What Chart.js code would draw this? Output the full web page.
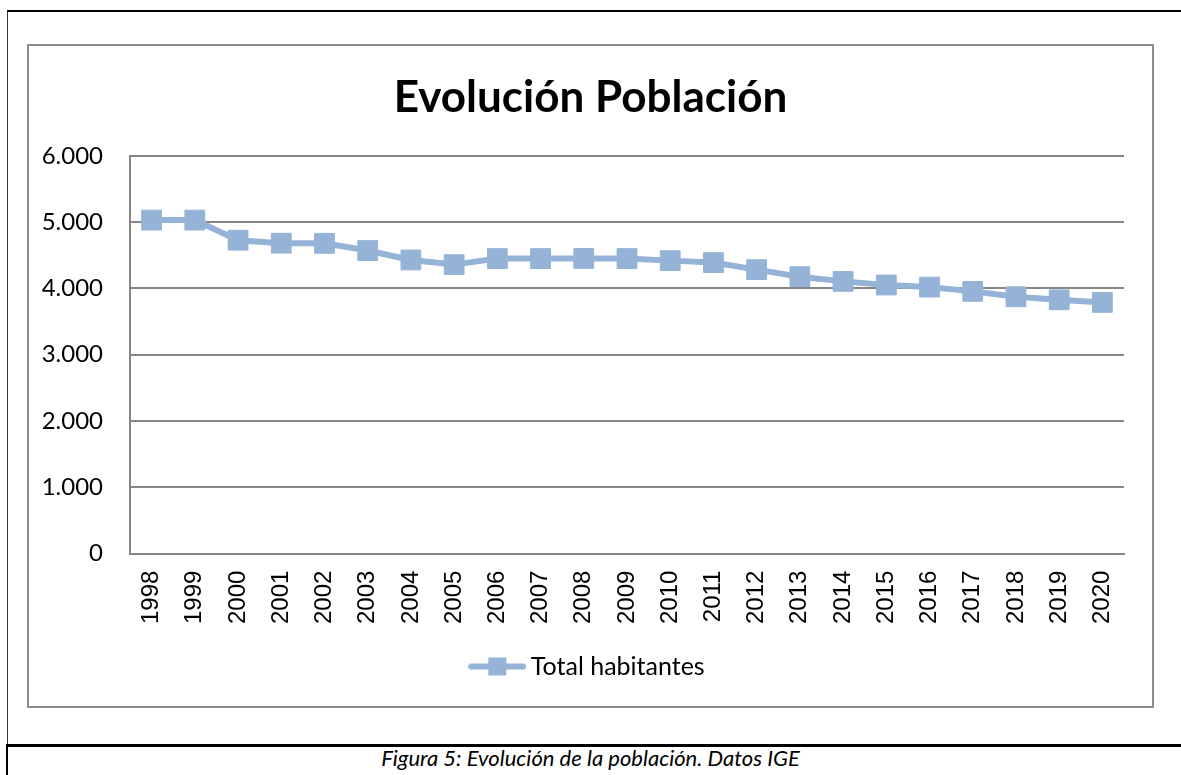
<!DOCTYPE html>
<html lang="es">
<head>
  <meta charset="UTF-8">
  <title>Evolución Población</title>
  <script src="https://cdn.jsdelivr.net/npm/chart.js"></script>
  <style>
    html, body { margin: 0; padding: 0; background: #fff; overflow: hidden; }
    body { width: 1181px; height: 775px; position: relative; }
    .cell { position: absolute; left: 7px; top: 10px; width: 1200px; height: 734px;
      border-top: 2px solid #000; border-left: 1px solid #333; }
    .sep { position: absolute; left: 7px; top: 744px; width: 1200px; height: 3px; background: #000; }
    .sepLeft { position: absolute; left: 6px; top: 744px; width: 2px; height: 40px; background: #000; }
    .frame { position: absolute; left: 27px; top: 44px; width: 1123px; height: 660px;
      border: 2px solid #8c8c8c; background: #fff; }
    .caption { position: absolute; left: 0; width: 1181px; top: 744px; text-align: center;
      font-family: Lato, "Open Sans", sans-serif; font-style: italic; font-size: 22px; color: #000; }
  </style>
</head>
<body>
  <div class="cell"></div>
  <div class="sep"></div>
  <div class="sepLeft"></div>
  <div class="frame">
    <canvas id="myChart" width="1123" height="660"></canvas>
  </div>
  <div class="caption">Figura 5: Evolución de la población. Datos IGE</div>

  <script>
    // datos
    const years = ['1998', '1999', '2000', '2001', '2002', '2003', '2004', '2005', '2006', '2007', '2008',
      '2009', '2010', '2011', '2012', '2013', '2014', '2015', '2016', '2017', '2018', '2019', '2020'];
    const habitantes = [5030, 5030, 4727, 4682, 4680, 4571, 4429, 4359, 4450, 4450, 4452,
      4450, 4419, 4389, 4283, 4177, 4106, 4051, 4020, 3955, 3874, 3828, 3788];
    const yTicks = [0, 1000, 2000, 3000, 4000, 5000, 6000];

    const lineColor = '#95B3D7';
    const gridColor = '#868686';

    function fmt(v) {
      return String(v).replace(/\B(?=(\d{3})+(?!\d))/g, '.');
    }

    // legend marker: line + square like Excel
    const marker = document.createElement('canvas');
    marker.width = 58;
    marker.height = 20;
    let m = marker.getContext('2d');
    m.strokeStyle = lineColor;
    m.lineWidth = 6;
    m.lineCap = 'round';
    m.beginPath();
    m.moveTo(3, 10);
    m.lineTo(55, 10);
    m.stroke();
    m.fillStyle = lineColor;
    m.fillRect(20, 1, 18, 18);

    const ctx = document.getElementById('myChart');

    new Chart(ctx, {
      type: 'line',
      data: {
        labels: years,
        datasets: [{
          label: 'Total habitantes',
          data: habitantes,
          borderColor: lineColor,
          backgroundColor: lineColor,
          borderWidth: 6,
          pointStyle: 'rect',
          pointRadius: 14,
          pointBorderWidth: 1,
          pointBorderColor: lineColor,
          pointBackgroundColor: lineColor,
          tension: 0
        }]
      },
      options: {
        responsive: false,
        animation: false,
        layout: { padding: { left: 0, right: 0, top: 0, bottom: 17 } },
        plugins: {
          title: {
            display: true,
            text: 'Evolución Población',
            color: '#000',
            font: { family: 'Lato', size: 44, weight: 'bold', lineHeight: 1.2 },
            padding: { top: 25, bottom: 32 }
          },
          legend: {
            position: 'bottom',
            labels: {
              usePointStyle: true,
              pointStyleWidth: 42,
              padding: 13,
              color: '#000',
              font: { family: 'Lato', size: 25 },
              generateLabels: (chart) => [{
                text: 'Total habitantes',
                pointStyle: marker,
                fillStyle: lineColor,
                strokeStyle: lineColor,
                lineWidth: 0,
                datasetIndex: 0
              }]
            }
          },
          tooltip: { enabled: false }
        },
        scales: {
          x: {
            offset: true,
            grid: { display: false, drawTicks: false },
            border: { display: true, color: gridColor, width: 2 },
            ticks: {
              autoSkip: false,
              minRotation: 90,
              maxRotation: 90,
              padding: 17,
              color: '#000',
              font: { family: 'Liberation Sans', size: 24 }
            }
          },
          y: {
            min: 0,
            max: 6000,
            afterBuildTicks: (scale) => { scale.ticks = yTicks.map(v => ({ value: v })); },
            afterFit: (scale) => { scale.width = 101; },
            grid: { color: gridColor, lineWidth: 2, drawTicks: false },
            border: { display: true, color: gridColor, width: 2 },
            ticks: {
              padding: 27,
              color: '#000',
              font: { family: 'Lato', size: 24 },
              callback: (v) => fmt(v)
            }
          },
          // empty space on the right side of the plot, as in the original
          yRight: {
            position: 'right',
            min: 0,
            max: 1,
            grid: { display: false, drawTicks: false },
            border: { display: false },
            ticks: { display: false },
            afterFit: (scale) => { scale.width = 28; }
          }
        }
      }
    });
  </script>
</body>
</html>
